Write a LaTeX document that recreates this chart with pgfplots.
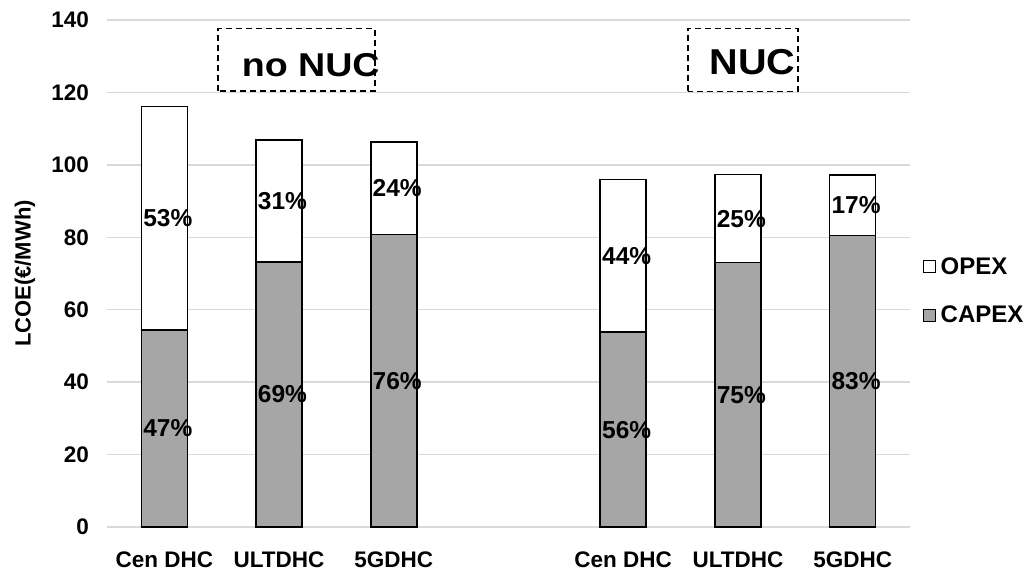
\documentclass[border=0pt]{standalone}
\usepackage{fontspec}
\setmainfont{Liberation Sans}
\usepackage{graphicx}
\usepackage{pgfplots}
\pgfplotsset{compat=1.18}
\definecolor{capex}{RGB}{166,166,166}
\definecolor{gridc}{RGB}{217,217,217}
\newcommand{\fs}[1]{\fontsize{#1bp}{#1bp}\selectfont\bfseries}
\pgfplotsset{sqleg/.style={legend image code/.code={\draw[##1, line width=1bp] (0bp,-6bp) rectangle (12bp,6bp); \path[draw=none,fill=none] (0bp,0bp) -- (15bp,0bp);}}}

\begin{document}
\begin{tikzpicture}
\path[use as bounding box] (0,0) rectangle (1032bp,575bp);
\begin{axis}[
 at={(107bp,48bp)}, anchor=south west,
 scale only axis, width=803bp, height=507bp,
 ybar stacked, bar width=46bp,
 xmin=-0.5, xmax=6.5, ymin=0, ymax=140,
 xtick={0,1,2,4,5,6},
 xticklabels={Cen DHC,ULTDHC,5GDHC,Cen DHC,ULTDHC,5GDHC},
 ytick={0,20,...,140},
 ymajorgrids, grid style={gridc, line width=1.3bp},
 axis line style={draw=none},
 major tick length=0pt,
 /pgf/number format/assume math mode=true,
 yticklabel style={font=\fs{22.5}, xshift=-14.5bp},
 xticklabel style={font=\fs{22.5}, yshift=-21bp},
 ylabel={LCOE(€/MWh)},
 every axis y label/.style={at={([xshift=-82bp]axis description cs:0,0.5)}, rotate=90, anchor=center, font=\fs{22}},
 legend style={at={([xshift=13bp]axis description cs:1,0.4657)}, anchor=west, draw=none, fill=none, font=\fs{24}, row sep=26bp, inner sep=0pt},
 legend cell align=left,
 reverse legend,
 clip=false,
]
\addplot[fill=capex, draw=black, line width=1.5bp, sqleg]
  coordinates {(0,54.4) (1,73.2) (2,80.7) (4,53.8) (5,73.0) (6,80.5)};
\addlegendentry{CAPEX}
\addplot[fill=white, draw=black, line width=1.5bp, sqleg]
  coordinates {(0,61.7) (1,33.7) (2,25.6) (4,42.1) (5,24.3) (6,16.7)};
\addlegendentry{OPEX}

\coordinate (c0) at (axis cs:0.03,27.2);
\coordinate (o0) at (axis cs:0.03,85.25);
\coordinate (c1) at (axis cs:1.03,36.6);
\coordinate (o1) at (axis cs:1.03,90.05);
\coordinate (c2) at (axis cs:2.03,40.35);
\coordinate (o2) at (axis cs:2.03,93.5);
\coordinate (c4) at (axis cs:4.03,26.9);
\coordinate (o4) at (axis cs:4.03,74.85);
\coordinate (c5) at (axis cs:5.03,36.5);
\coordinate (o5) at (axis cs:5.03,85.15);
\coordinate (c6) at (axis cs:6.03,40.25);
\coordinate (o6) at (axis cs:6.03,88.85);

\draw[line width=1.5bp, dash pattern=on 6bp off 4bp] (axis cs:0.4696,120.4) rectangle (axis cs:1.835,137.6);
\node[font=\fs{33}] at (axis cs:1.276,127.6) {\scalebox{1.14}[1]{no NUC}};
\draw[line width=1.5bp, dash pattern=on 6bp off 4bp] (axis cs:4.565,120.3) rectangle (axis cs:5.522,137.6);
\node[font=\fs{36}] at (axis cs:5.126,128.3) {\scalebox{1.1}[1]{NUC}};
\end{axis}
\begin{scope}[every node/.style={font=\fs{24.5}}]
\node at (c0) {47\%};
\node at (o0) {53\%};
\node at (c1) {69\%};
\node at (o1) {31\%};
\node at (c2) {76\%};
\node at (o2) {24\%};
\node at (c4) {56\%};
\node at (o4) {44\%};
\node at (c5) {75\%};
\node at (o5) {25\%};
\node at (c6) {83\%};
\node at (o6) {17\%};
\end{scope}
\end{tikzpicture}
\end{document}
